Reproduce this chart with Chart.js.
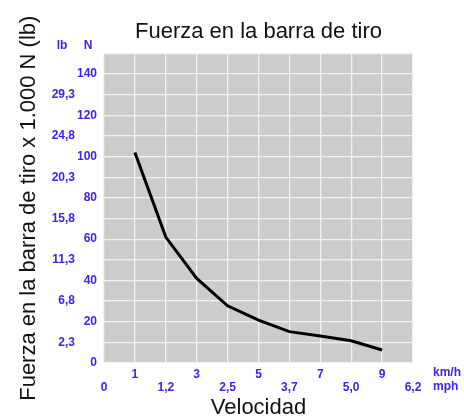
<!DOCTYPE html>
<html>
<head>
<meta charset="utf-8">
<script src="https://cdn.jsdelivr.net/npm/chart.js@4"></script>
<style>
  html, body { margin: 0; padding: 0; background: #fff; }
  #wrap { width: 464px; height: 417px; }
</style>
</head>
<body>
<div id="wrap"><canvas id="ForceChart"></canvas></div>
<script>
const FONT = '"Liberation Sans", Arial, Helvetica, sans-serif';
const BLUE = "#3c24f0";

// velocidad (km/h) y fuerza (x 1.000 N)
const speedKmh = [1, 2, 3, 4, 5, 6, 7, 8, 9];
const forceN = [102, 61, 41, 27.7, 20.8, 15.2, 13.1, 10.8, 6.3];

// etiquetas de los ejes
const kmhTicks = [1, 3, 5, 7, 9];
const mphLabels = ["0", "1,2", "2,5", "3,7", "5,0", "6,2"];   // en 0,2,4,6,8,10 km/h
const nTicks = [0, 20, 40, 60, 80, 100, 120, 140];
const lbLabels = ["2,3", "6,8", "11,3", "15,8", "20,3", "24,8", "29,3"]; // en 10,30,...,130 N

const plotBg = {
	id: "plotBg",
	beforeDraw(chart) {
		const a = chart.chartArea;
		const ctx = chart.ctx;
		ctx.save();
		ctx.fillStyle = "#cccccc";
		ctx.fillRect(a.left, a.top, a.right - a.left, a.bottom - a.top);
		ctx.restore();
	},
	afterDraw(chart) {
		const ctx = chart.ctx;
		ctx.save();
		ctx.fillStyle = BLUE;
		ctx.font = "bold 12px " + FONT;
		ctx.textBaseline = "middle";
		ctx.textAlign = "center";
		ctx.fillText("lb", 62, 46);
		ctx.fillText("N", 88, 46);
		ctx.textAlign = "left";
		ctx.fillText("km/h", 433, 373);
		ctx.fillText("mph", 433, 387);
		ctx.restore();
	}
};

const CHART = document.getElementById("ForceChart");

let ForceChart = new Chart(CHART, {
	type: 'line',
	data: {
		datasets: [
			{
				label: "Fuerza",
				data: speedKmh.map((v, i) => ({ x: v, y: forceN[i] })),
				borderColor: "#000",
				borderWidth: 3,
				fill: false,
				tension: 0,
				pointRadius: 0,
				xAxisID: 'x',
				yAxisID: 'y'
			}
		]
	},
	options: {
		responsive: true,
		maintainAspectRatio: false,
		animation: false,
		layout: { padding: { left: 0, right: 51, top: 0, bottom: 0 } },
		plugins: {
			legend: { display: false },
			tooltip: { enabled: false },
			title: {
				display: true,
				fullSize: false,
				text: "Fuerza en la barra de tiro",
				color: "#111",
				font: { family: FONT, size: 22, weight: 'normal', lineHeight: 1.2 },
				padding: { top: 19, bottom: 8 }
			}
		},
		scales: {
			x: {
				type: 'linear',
				position: 'bottom',
				weight: 0,
				min: 0,
				max: 10,
				border: { display: false },
				grid: { color: "#f2f2f2", lineWidth: 1.3, drawTicks: false },
				ticks: {
					stepSize: 1,
					autoSkip: false,
					maxRotation: 0,
					padding: 4,
					color: BLUE,
					font: { family: FONT, size: 12, weight: 'bold' },
					callback: v => kmhTicks.includes(v) ? String(v) : ''
				},
				afterFit: s => { s.height = 17; }
			},
			xMph: {
				type: 'linear',
				position: 'bottom',
				weight: 1,
				min: 0,
				max: 10,
				border: { display: false },
				grid: { display: false, drawTicks: false },
				ticks: {
					stepSize: 2,
					autoSkip: false,
					maxRotation: 0,
					padding: 0,
					color: BLUE,
					font: { family: FONT, size: 12, weight: 'bold' },
					callback: v => mphLabels[v / 2] || ''
				},
				title: {
					display: true,
					text: "Velocidad",
					color: "#111",
					font: { family: FONT, size: 22, lineHeight: 1 },
					padding: { top: 0, bottom: -2 }
				},
				afterFit: s => { s.height = 37; }
			},
			y: {
				type: 'linear',
				position: 'left',
				weight: 0,
				min: 0,
				max: 150,
				border: { display: false },
				grid: { color: "#f2f2f2", lineWidth: 1.3, drawTicks: false },
				ticks: {
					stepSize: 10,
					autoSkip: false,
					padding: 7,
					color: BLUE,
					font: { family: FONT, size: 12, weight: 'bold' },
					callback: v => nTicks.includes(v) ? String(v) : ''
				},
				afterFit: s => { s.width = 26; }
			},
			yLb: {
				type: 'linear',
				position: 'left',
				weight: 1,
				min: 0,
				max: 150,
				border: { display: false },
				grid: { display: false, drawTicks: false },
				ticks: {
					stepSize: 10,
					autoSkip: false,
					padding: 3,
					color: BLUE,
					font: { family: FONT, size: 12, weight: 'bold' },
					callback: v => (v % 20 === 10) ? (lbLabels[(v - 10) / 20] || '') : ''
				},
				title: {
					display: true,
					text: "Fuerza en la barra de tiro x 1.000 N (lb)",
					color: "#111",
					font: { family: FONT, size: 22, lineHeight: 1.2 },
					padding: { top: 16, bottom: 0 }
				},
				afterFit: s => { s.width = 78; }
			}
		}
	},
	plugins: [plotBg]
});
</script>
</body>
</html>
